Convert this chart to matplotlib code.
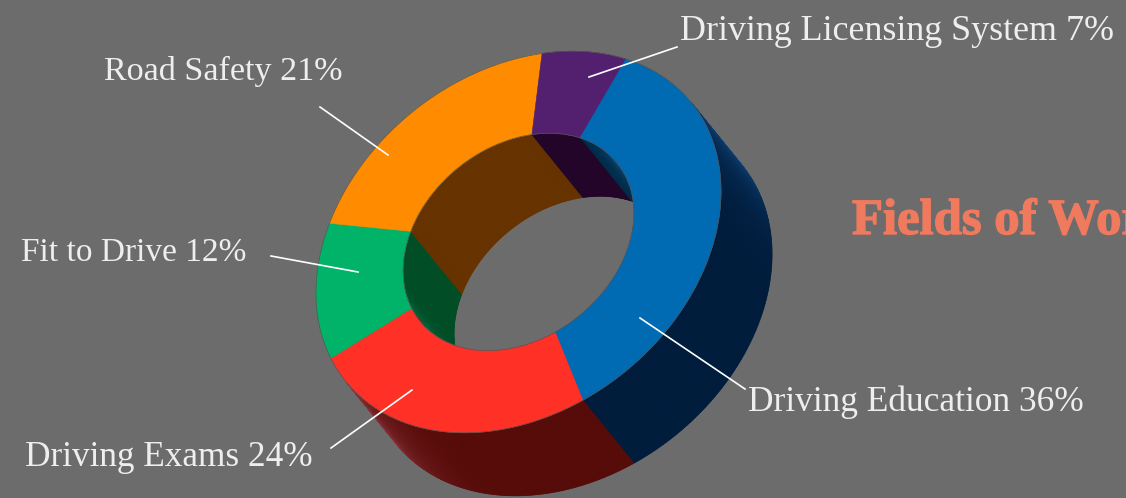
import numpy as np
import matplotlib
matplotlib.use("Agg")
import matplotlib.pyplot as plt
import matplotlib.patheffects as pe
from matplotlib.collections import PolyCollection
from matplotlib.patches import Wedge, Circle
from matplotlib.transforms import Affine2D
from matplotlib.colors import to_rgb

# dati
labels = ["Driving Education 36%", "Driving Exams 24%", "Fit to Drive 12%",
          "Road Safety 21%", "Driving Licensing System 7%"]
shares = [36, 24, 12, 21, 7]
face_colors = ["#006ab3", "#ff3026", "#00b368", "#ff8c00", "#52206e"]
outer_wall_colors = ["#001c3c", "#560b08", "#003d20", "#5c3000", "#1e0a28"]
inner_wall_colors = ["#002a48", "#560b08", "#004d26", "#663300", "#220528"]
title = "Fields of Work"

bg = "#6c6c6c"
hole = 0.57

# ellisse inclinata: cerchio unitario -> pixel
mat = np.array([[107.0, 172.0], [-183.0, 54.0]])
center = (518.5, 242.0)
depth_px = np.array([51.0, 63.0])
depth = np.linalg.solve(mat, depth_px)
depth_angle = np.arctan2(depth[1], depth[0])

fig = plt.figure(figsize=(11.26, 4.98), dpi=100, facecolor=bg)
ax = fig.add_axes([0, 0, 1, 1])
ax.set_xlim(0, 1126)
ax.set_ylim(498, 0)
ax.axis("off")

tr = Affine2D.from_values(mat[0, 0], mat[1, 0], mat[0, 1], mat[1, 1], *center) + ax.transData

edges = np.concatenate([[0], np.cumsum(shares)]) / np.sum(shares) * 360


def strips(t1, t2, radius, color, sign, spread):
    # fascia laterale tra arco superiore e arco spostato
    phi = np.radians(np.linspace(t1, t2, int(t2 - t1) * 2 + 2))
    facing = sign * np.cos(phi - depth_angle)
    polys, cols = [], []
    base = np.array(to_rgb(color))
    for i in range(len(phi) - 1):
        f = (facing[i] + facing[i + 1]) / 2
        if f <= 0:
            continue
        p0 = radius * np.array([np.cos(phi[i]), np.sin(phi[i])])
        p1 = radius * np.array([np.cos(phi[i + 1]), np.sin(phi[i + 1])])
        polys.append([p0, p1, p1 + depth, p0 + depth])
        glow = max(0.0, 1 - f / spread) ** 2
        cols.append(base + (np.array([0.1, 0.2, 0.27]) * 0.6 + base * 0.35) * glow)
    return polys, np.clip(cols, 0, 1) if cols else cols


# pareti esterne
for t1, t2, c in zip(edges[:-1], edges[1:], outer_wall_colors):
    polys, cols = strips(t1, t2, 1.0, c, 1, 0.7)
    if polys:
        ax.add_collection(PolyCollection(polys, facecolors=cols, edgecolors=cols,
                                         linewidths=0.5, transform=tr))

# pareti interne, visibili solo dentro il foro
clip = Circle((0, 0), hole, transform=tr)
for t1, t2, c in zip(edges[:-1], edges[1:], inner_wall_colors):
    polys, cols = strips(t1, t2, hole, c, -1, 0.5)
    if polys:
        pc = PolyCollection(polys, facecolors=cols, edgecolors=cols,
                            linewidths=0.5, transform=tr)
        ax.add_collection(pc)
        pc.set_clip_path(clip)

# facce superiori
for t1, t2, c in zip(edges[:-1], edges[1:], face_colors):
    ax.add_patch(Wedge((0, 0), 1.0, t1, t2, width=1 - hole, facecolor=c,
                       edgecolor=c, linewidth=0.4, transform=tr))
ax.add_patch(Circle((0, 0), 1.0, fill=False, edgecolor="#555555", linewidth=0.5, transform=tr))
ax.add_patch(Circle((0, 0), hole, fill=False, edgecolor="#555555", linewidth=0.5, transform=tr))

# etichette e linee guida
text_x = [748, 25, 21, 104, 680]
text_y = [402, 457, 253, 71, 31]
text_size = [25.5, 25.4, 24, 24.6, 25.9]
leaders = [((640, 318), (745, 389)), ((412, 390), (331, 448)), ((358, 272), (271, 256)),
           ((388, 155), (320, 107)), ((589, 77), (677, 47))]
for lab, x, y, s, (a, b) in zip(labels, text_x, text_y, text_size, leaders):
    ax.text(x, y, lab, color="#eeeeee", fontsize=s, family="Liberation Serif",
            ha="left", va="center")
    ax.plot([a[0], b[0]], [a[1], b[1]], color="white", lw=1.2)

ax.text(852, 222, title, color="#f07a5e", fontsize=36.5, family="Liberation Serif",
        fontweight="bold", ha="left", va="center", clip_on=False,
        path_effects=[pe.withStroke(linewidth=1, foreground="#f07a5e")])

fig.savefig("out.png", dpi=100, facecolor=bg)
